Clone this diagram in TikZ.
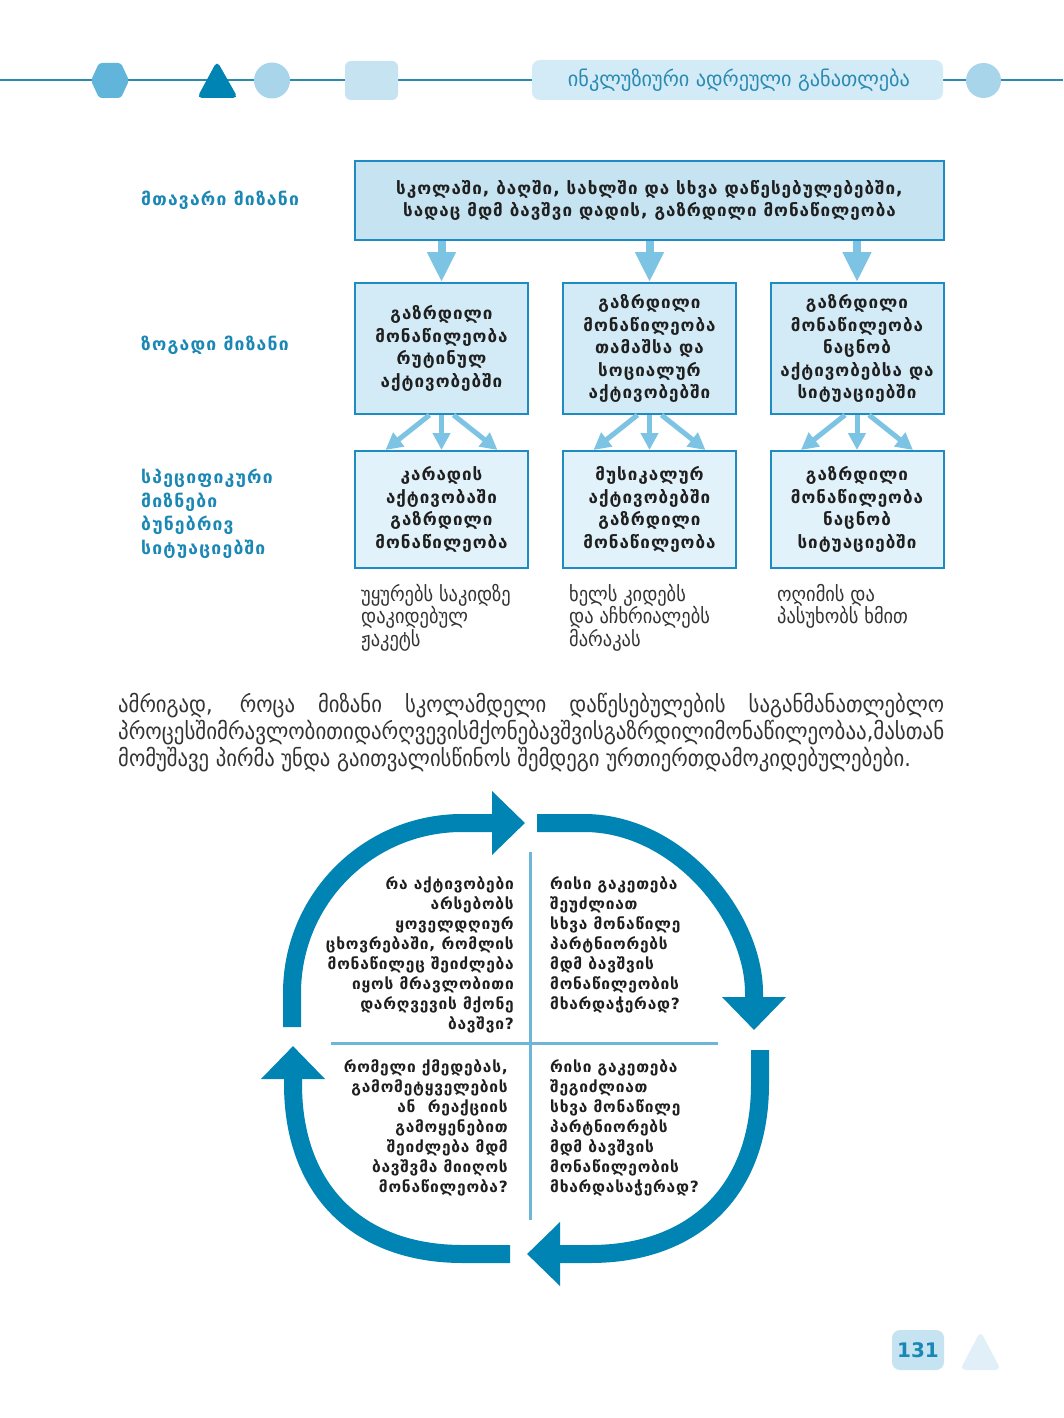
\documentclass[tikz,border=0pt]{standalone}
\usepackage{fontspec}
\setmainfont{DejaVu Sans}
\newfontfamily\condf{DejaVu Sans Condensed}
\newfontfamily\bxa{DejaVu Sans}[LetterSpace=6]
\newfontfamily\bxb{DejaVu Sans}[LetterSpace=5]
\newfontfamily\bxc{DejaVu Sans}[LetterSpace=7]
\usetikzlibrary{arrows.meta,shapes.geometric}
\definecolor{dkblue}{HTML}{0084B4}
\definecolor{boxline}{HTML}{1E8BC3}
\definecolor{topfill}{HTML}{C5E3F1}
\definecolor{midfill}{HTML}{D3EBF6}
\definecolor{botfill}{HTML}{E2F2FA}
\definecolor{arrlight}{HTML}{7DC3E4}
\definecolor{divline}{HTML}{6DB6DA}
\definecolor{hdrline}{HTML}{2A8AB2}
\definecolor{hexcol}{HTML}{62B5DA}
\definecolor{ellcol}{HTML}{A8D5EA}
\definecolor{hdrbox}{HTML}{D3EBF6}
\definecolor{lbl}{HTML}{1A87B5}
\definecolor{txtdark}{HTML}{1F1F1F}
\definecolor{txtgray}{HTML}{333333}
\definecolor{pgtri}{HTML}{E1F0F8}
\begin{document}
\begin{tikzpicture}[x=1pt,y=-1pt,
  boxtxt/.style={font=\bxa\fontsize{17}{22.5}\selectfont\bfseries, text=txtdark, align=center, inner sep=0pt},
  mainbox/.style={boxtxt, draw=boxline, line width=2pt, fill=topfill, minimum width=589pt, minimum height=79pt},
  midbox/.style={boxtxt, draw=boxline, line width=2pt, fill=midfill, minimum width=173pt, minimum height=131pt},
  botbox/.style={boxtxt, draw=boxline, line width=2pt, fill=botfill, minimum width=173pt, minimum height=117pt},
  toparrow/.style={draw=arrlight, line width=8pt, -{Triangle[width=27pt,length=30pt]}},
  smallarrow/.style={draw=arrlight, line width=5pt, -{Triangle[width=17pt,length=17pt]}},
  cyclearrow/.style={draw=dkblue, line width=18pt, -{Triangle[width=62pt,length=33pt]}},
  lbltxt/.style={font=\bxc\fontsize{17.5}{23.5}\selectfont\bfseries, text=lbl, align=left, inner sep=0pt},
  notetxt/.style={font=\condf\fontsize{20.5}{22.5}\selectfont, text=txtgray, align=left, inner sep=0pt, anchor=north west},
  paratxt/.style={font=\condf\fontsize{23}{27}\selectfont, text=txtgray, inner sep=0pt, anchor=base west},
  quadtxt/.style={font=\bxb\fontsize{15.5}{20}\selectfont\bfseries, text=txtdark, inner sep=0pt},
  divider/.style={draw=divline, line width=3pt}
]
\useasboundingbox (0,0) rectangle (1063,1418);
\fill[white] (0,0) rectangle (1063,1418);

% ---------- header ----------
\draw[hdrline, line width=2pt] (0,80.5) -- (1063,80.5);
\fill[hexcol, rounded corners=3pt] (99,63) -- (121,63) -- (129,80.5) -- (121,98) -- (99,98) -- (91,80.5) -- cycle;
\fill[dkblue, rounded corners=5pt] (217,61) -- (238,98) -- (197,98) -- cycle;
\fill[ellcol] (272,80.5) circle [radius=18pt];
\fill[topfill, rounded corners=6pt] (345,61) rectangle (398,100);
\fill[hdrbox, rounded corners=8pt] (532,60) rectangle (943,100);
\node[inner sep=0pt, text=hdrline] (hdr) at (739,80.5)
  {\resizebox{342pt}{\height}{\condf\fontsize{21}{21}\selectfont ინკლუზიური ადრეული განათლება}};
\fill[ellcol] (983.5,80.5) circle [radius=17.5pt];

% ---------- goal hierarchy ----------
\node[mainbox] (main) at (649.5,200.5)
  {სკოლაში, ბაღში, სახლში და სხვა დაწესებულებებში,\\სადაც მდმ ბავშვი დადის, გაზრდილი მონაწილეობა};

\node[midbox] (m1) at (441.5,348.5) {გაზრდილი\\მონაწილეობა\\რუტინულ\\აქტივობებში};
\node[midbox] (m2) at (649.5,348.5) {გაზრდილი\\მონაწილეობა\\თამაშსა და\\სოციალურ\\აქტივობებში};
\node[midbox] (m3) at (857,348.5) {გაზრდილი\\მონაწილეობა\\ნაცნობ\\აქტივობებსა და\\სიტუაციებში};

\node[botbox] (b1) at (441.5,509.5) {კარადის\\აქტივობაში\\გაზრდილი\\მონაწილეობა};
\node[botbox] (b2) at (649.5,509.5) {მუსიკალურ\\აქტივობებში\\გაზრდილი\\მონაწილეობა};
\node[botbox] (b3) at (857,509.5) {გაზრდილი\\მონაწილეობა\\ნაცნობ\\სიტუაციებში};

\foreach \m in {m1,m2,m3}{
  \draw[toparrow] (main.south -| \m.north) -- (\m.north);
}
\foreach \m/\b in {m1/b1,m2/b2,m3/b3}{
  \draw[smallarrow] (\m.south) -- (\b.north);
  \draw[smallarrow] ([xshift=-12pt]\m.south) -- ([xshift=-56pt]\b.north);
  \draw[smallarrow] ([xshift=12pt]\m.south) -- ([xshift=56pt]\b.north);
}

\node[lbltxt, anchor=west] (l1) at (141,200) {მთავარი მიზანი};
\node[lbltxt, anchor=west] (l2) at (141,345) {ზოგადი მიზანი};
\node[lbltxt, anchor=north west] (l3) at (141,469) {სპეციფიკური\\მიზნები\\ბუნებრივ\\სიტუაციებში};

\node[notetxt] (n1) at (361,584) {უყურებს საკიდზე\\დაკიდებულ\\ჟაკეტს};
\node[notetxt] (n2) at (569,584) {ხელს კიდებს\\და აჩხრიალებს\\მარაკას};
\node[notetxt] (n3) at (777,584) {ოღიმის და\\პასუხობს ხმით};

% ---------- paragraph ----------
\node[paratxt] (p1) at (118,712) {\makebox[826pt][s]{ამრიგად, როცა მიზანი სკოლამდელი დაწესებულების საგანმანათლებლო}};
\node[paratxt] (p2) at (118,739) {\resizebox{826pt}{\height}{პროცესშიმრავლობითიდარღვევისმქონებავშვისგაზრდილიმონაწილეობაა,მასთან}};
\node[paratxt] (p3) at (118,766) {მომუშავე პირმა უნდა გაითვალისწინოს შემდეგი ურთიერთდამოკიდებულებები.};

% ---------- cycle ----------
\draw[cyclearrow] (292,1027) -- (292,993) .. controls (292,899.1) and (368.1,823) .. (462,823) -- (525,823);
\draw[cyclearrow] (537,823) -- (584,823) .. controls (677.9,823) and (754,916.9) .. (754,993) -- (754,1030);
\draw[cyclearrow] (760,1050) -- (760,1084) .. controls (760,1189.4) and (695.4,1254) .. (590,1254) -- (527,1254);
\draw[cyclearrow] (510,1254) -- (463,1254) .. controls (357.6,1254) and (293,1189.4) .. (293,1084) -- (293,1046);

\coordinate (vt) at (530,852);
\coordinate (vb) at (530,1220);
\coordinate (hl) at (331,1043);
\coordinate (hr) at (718,1043);
\draw[divider] (vt) -- (vb);
\draw[divider] (hl) -- (hr);

\node[quadtxt, anchor=north east, align=right] (q1) at (514,876)
  {რა აქტივობები\\არსებობს\\ყოველდღიურ\\ცხოვრებაში, რომლის\\მონაწილეც შეიძლება\\იყოს მრავლობითი\\დარღვევის მქონე\\ბავშვი?};
\node[quadtxt, anchor=north west, align=left] (q2) at (550,876)
  {რისი გაკეთება\\შეუძლიათ\\სხვა მონაწილე\\პარტნიორებს\\მდმ ბავშვის\\მონაწილეობის\\მხარდაჭერად?};
\node[quadtxt, anchor=north east, align=right] (q3) at (508,1059)
  {რომელი ქმედებას,\\გამომეტყველების\\ან~~რეაქციის\\გამოყენებით\\შეიძლება მდმ\\ბავშვმა მიიღოს\\მონაწილეობა?};
\node[quadtxt, anchor=north west, align=left] (q4) at (550,1059)
  {რისი გაკეთება\\შეგიძლიათ\\სხვა მონაწილე\\პარტნიორებს\\მდმ ბავშვის\\მონაწილეობის\\მხარდასაჭერად?};

% ---------- page number ----------
\node[fill=topfill, rounded corners=8pt, minimum width=52pt, minimum height=40pt, inner sep=0pt,
      text=lbl, font=\fontsize{20}{20}\selectfont\bfseries] (pg) at (918,1350) {131};
\fill[pgtri, rounded corners=6pt] (980.5,1331) -- (1001,1370) -- (960,1370) -- cycle;
\end{tikzpicture}
\end{document}
